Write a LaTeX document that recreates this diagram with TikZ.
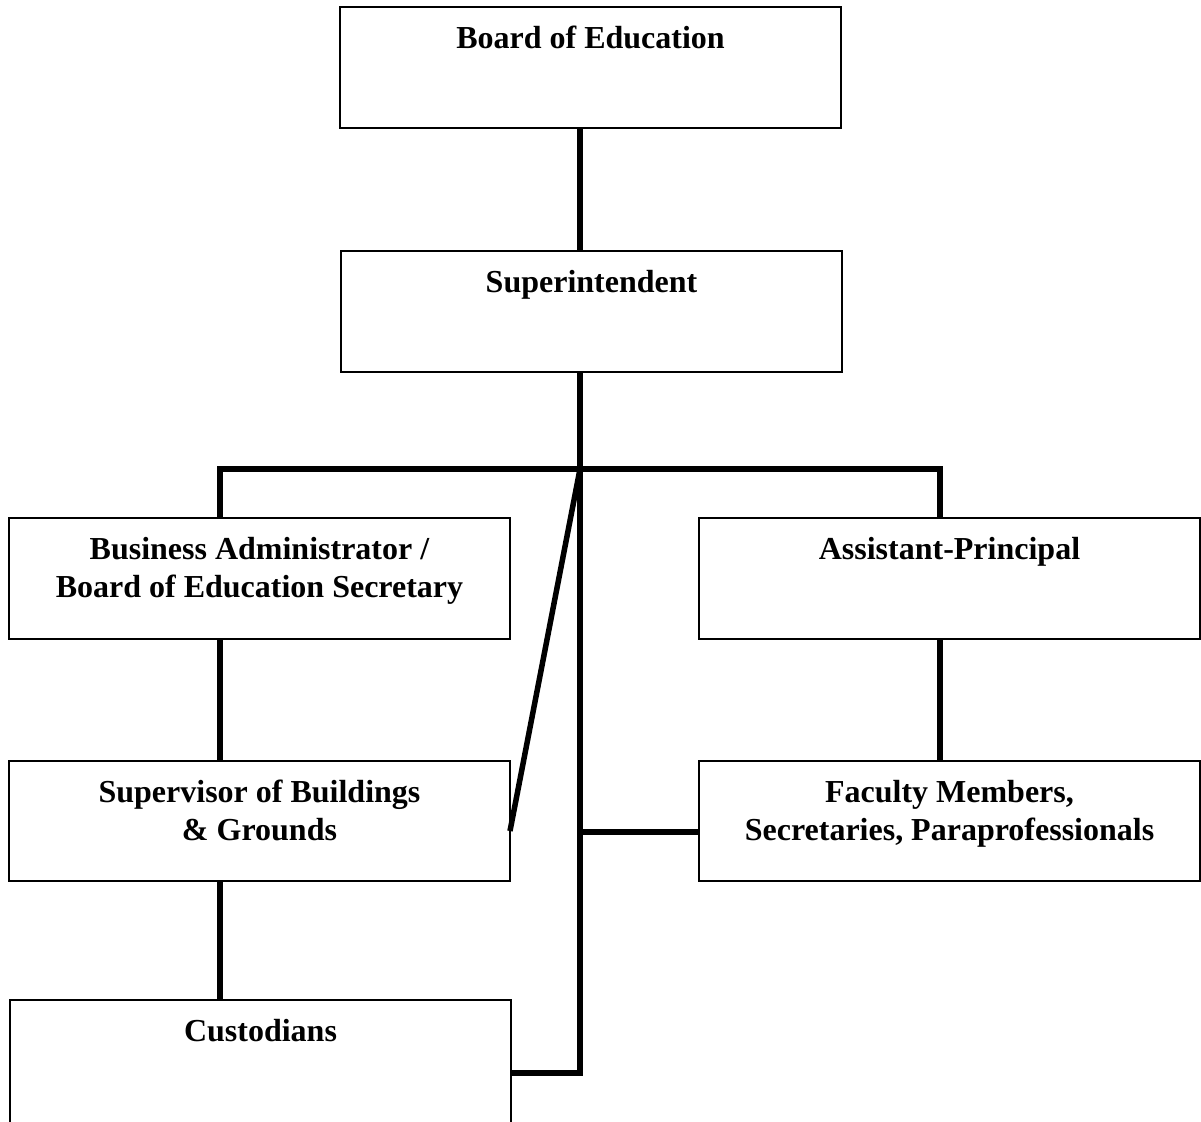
\documentclass[tikz,border=0pt]{standalone}
\usepackage{fontspec}
\setmainfont{Liberation Serif}
\usetikzlibrary{calc}
\newcommand\orgtext[2][121]{\parbox[t][#1pt][t]{501pt}{\centering\rule{0pt}{41.5pt}#2}}
\begin{document}
\begin{tikzpicture}[x=1pt,y=-1pt,
  orgbox/.style={draw=black, line width=2.4pt, rectangle, inner sep=0pt, outer sep=0pt,
    anchor=north west, font=\fontsize{32}{38}\selectfont\bfseries},
  link/.style={draw=black, line width=5.5pt, line join=miter}]
\useasboundingbox (0,0) rectangle (1201,1121);
\node[orgbox] (boe) at (340,7) {\orgtext{Board of Education}};
\node[orgbox] (sup) at (341,251) {\orgtext{Superintendent}};
\node[orgbox] (bus) at (9,518) {\orgtext{Business Administrator /\\Board of Education Secretary}};
\node[orgbox] (ap) at (699,518) {\orgtext{Assistant-Principal}};
\node[orgbox] (sbg) at (9,761) {\orgtext[120]{Supervisor of Buildings\\\& Grounds}};
\node[orgbox] (fac) at (699,761) {\orgtext[120]{Faculty Members,\\Secretaries, Paraprofessionals}};
\node[orgbox] (cus) at (10,1000) {\orgtext[130]{Custodians}};
\coordinate (j) at (580,469);
\coordinate (jl) at (220,469);
\coordinate (jr) at (940,469);
\coordinate (jf) at (580,832);
\coordinate (jb) at (580,1073);
\draw[link] (boe.south -| j) -- (sup.north -| j);
\draw[link] (sup.south -| j) -- (jb) -- (jb -| cus.east);
\draw[link] (jl |- bus.north) -- (jl) -- (jr) -- (jr |- ap.north);
\draw[link] (jl |- bus.south) -- (jl |- sbg.north);
\draw[link] (jl |- sbg.south) -- (jl |- cus.north);
\draw[link] (jr |- ap.south) -- (jr |- fac.north);
\draw[link] (j) -- ($(sbg.east)+(0,10)$);
\draw[link] (jf) -- (jf -| fac.west);
\end{tikzpicture}
\end{document}
